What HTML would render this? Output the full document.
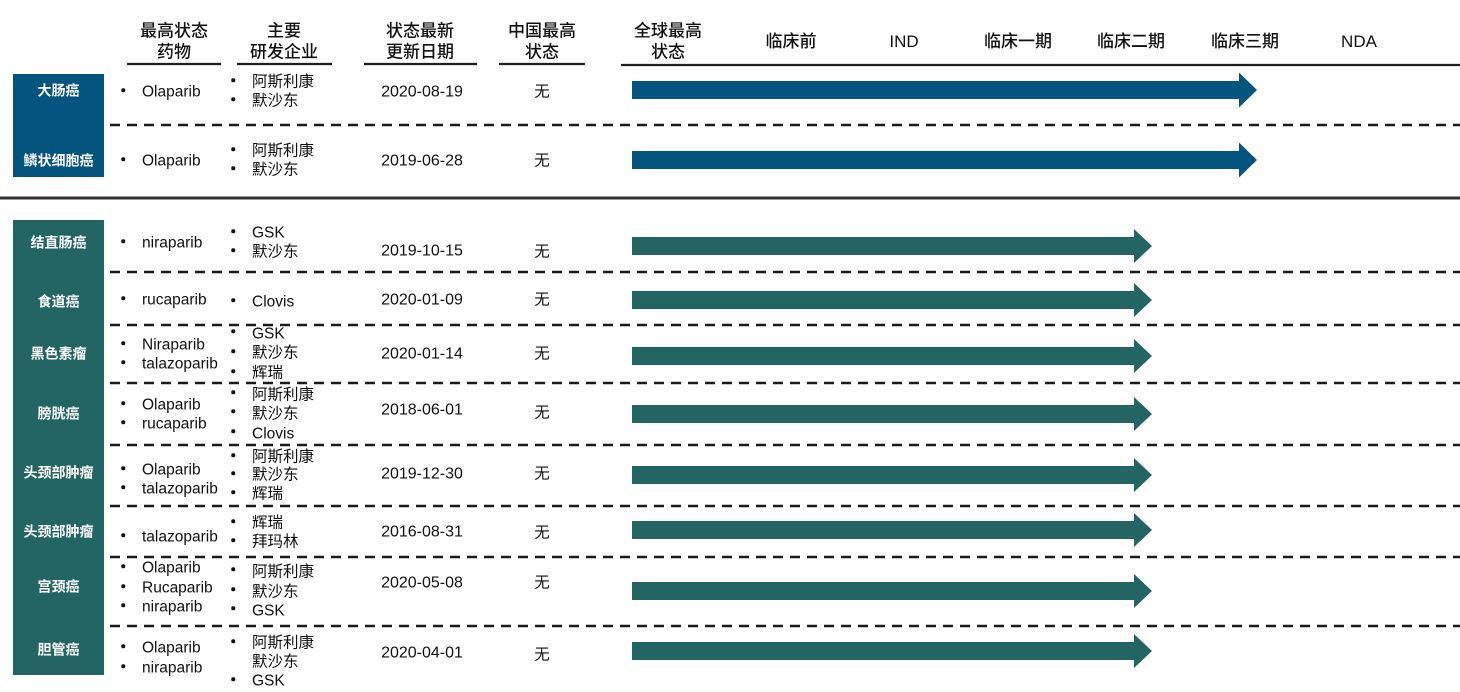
<!DOCTYPE html>
<html><head><meta charset="utf-8">
<style>
body{margin:0;background:#fff;}
#c{position:relative;width:1460px;height:692px;overflow:hidden;background:#fff;font-family:"Liberation Sans","Noto Sans CJK SC",sans-serif;color:#111;}
svg{position:absolute;left:0;top:0;}
.t{position:absolute;white-space:nowrap;font-size:15.5px;line-height:19px;transform:translateY(-50%);}
.c{position:absolute;white-space:nowrap;font-size:15.5px;line-height:19px;transform:translate(-50%,-50%);text-align:center;}
.h{font-size:17px;line-height:20.5px;font-weight:500;color:#111;}
.dt{font-size:16px;}
.lb{color:#fff;font-weight:bold;font-size:14px;}
.d{position:absolute;width:3.5px;height:3.5px;border-radius:50%;background:#111;transform:translate(-50%,-50%);}
</style></head><body><div id="c">
<svg width="1460" height="692" viewBox="0 0 1460 692">
<rect x="13" y="74" width="91" height="103" fill="#03547f"/>
<rect x="13" y="220" width="91" height="455" fill="#236563"/>
<g stroke="#1e1e1e" stroke-width="2.2">
<line x1="127" y1="64" x2="221" y2="64"/>
<line x1="237" y1="64" x2="332" y2="64"/>
<line x1="364" y1="64" x2="477" y2="64"/>
<line x1="499" y1="64" x2="585" y2="64"/>
<line x1="621" y1="65" x2="1460" y2="65"/>
</g>
<line x1="0" y1="198" x2="1460" y2="198" stroke="#333" stroke-width="3"/>
<g stroke="#1a1a1a" stroke-width="2.5" stroke-dasharray="10 7">
<line x1="110" y1="125" x2="1460" y2="125"/>
<line x1="110" y1="272" x2="1460" y2="272"/>
<line x1="110" y1="325" x2="1460" y2="325"/>
<line x1="110" y1="383" x2="1460" y2="383"/>
<line x1="110" y1="445" x2="1460" y2="445"/>
<line x1="110" y1="506" x2="1460" y2="506"/>
<line x1="110" y1="557" x2="1460" y2="557"/>
<line x1="110" y1="626" x2="1460" y2="626"/>
</g>
<g fill="#03547f">
<polygon points="632,81 1239,81 1239,72.5 1257,90 1239,107.5 1239,99 632,99"/>
<polygon points="632,151 1239,151 1239,142.5 1257,160 1239,177.5 1239,169 632,169"/>
</g>
<g fill="#236563">
<polygon points="632,237 1134,237 1134,229 1152,246 1134,263 1134,255 632,255"/>
<polygon points="632,291 1134,291 1134,283 1152,300 1134,317 1134,309 632,309"/>
<polygon points="632,347 1134,347 1134,339 1152,356 1134,373 1134,365 632,365"/>
<polygon points="632,405 1134,405 1134,397 1152,414 1134,431 1134,423 632,423"/>
<polygon points="632,466 1134,466 1134,458 1152,475 1134,492 1134,484 632,484"/>
<polygon points="632,521 1134,521 1134,513 1152,530 1134,547 1134,539 632,539"/>
<polygon points="632,582 1134,582 1134,574 1152,591 1134,608 1134,600 632,600"/>
<polygon points="632,642 1134,642 1134,634 1152,651 1134,668 1134,660 632,660"/>
</g>
</svg>

<!-- headers -->
<div class="c h" style="left:174px;top:42px;">最高状态<br>药物</div>
<div class="c h" style="left:284px;top:42px;">主要<br>研发企业</div>
<div class="c h" style="left:420px;top:42px;">状态最新<br>更新日期</div>
<div class="c h" style="left:542px;top:42px;">中国最高<br>状态</div>
<div class="c h" style="left:668px;top:42px;">全球最高<br>状态</div>
<div class="c h" style="left:791px;top:42px;">临床前</div>
<div class="c h" style="left:904px;top:42px;">IND</div>
<div class="c h" style="left:1018px;top:42px;">临床一期</div>
<div class="c h" style="left:1131px;top:42px;">临床二期</div>
<div class="c h" style="left:1245px;top:42px;">临床三期</div>
<div class="c h" style="left:1359px;top:42px;">NDA</div>

<!-- labels -->
<div class="c lb" style="left:58.5px;top:91px;">大肠癌</div>
<div class="c lb" style="left:58.5px;top:161px;">鳞状细胞癌</div>
<div class="c lb" style="left:58.5px;top:243px;">结直肠癌</div>
<div class="c lb" style="left:58.5px;top:302px;">食道癌</div>
<div class="c lb" style="left:58.5px;top:354px;">黑色素瘤</div>
<div class="c lb" style="left:58.5px;top:414px;">膀胱癌</div>
<div class="c lb" style="left:58.5px;top:473px;">头颈部肿瘤</div>
<div class="c lb" style="left:58.5px;top:532px;">头颈部肿瘤</div>
<div class="c lb" style="left:58.5px;top:587px;">宫颈癌</div>
<div class="c lb" style="left:58.5px;top:650px;">胆管癌</div>

<!-- drugs -->
<div class="d" style="left:123px;top:90px;"></div><div class="t" style="left:142px;top:92px;">Olaparib</div>
<div class="d" style="left:123px;top:159px;"></div><div class="t" style="left:142px;top:161px;">Olaparib</div>
<div class="d" style="left:123px;top:241px;"></div><div class="t" style="left:142px;top:243px;">niraparib</div>
<div class="d" style="left:123px;top:298px;"></div><div class="t" style="left:142px;top:300px;">rucaparib</div>
<div class="d" style="left:123px;top:343px;"></div><div class="t" style="left:142px;top:345px;">Niraparib</div>
<div class="d" style="left:123px;top:362px;"></div><div class="t" style="left:142px;top:364px;">talazoparib</div>
<div class="d" style="left:123px;top:403px;"></div><div class="t" style="left:142px;top:405px;">Olaparib</div>
<div class="d" style="left:123px;top:422px;"></div><div class="t" style="left:142px;top:424px;">rucaparib</div>
<div class="d" style="left:123px;top:468px;"></div><div class="t" style="left:142px;top:470px;">Olaparib</div>
<div class="d" style="left:123px;top:487px;"></div><div class="t" style="left:142px;top:489px;">talazoparib</div>
<div class="d" style="left:123px;top:535px;"></div><div class="t" style="left:142px;top:537px;">talazoparib</div>
<div class="d" style="left:123px;top:566px;"></div><div class="t" style="left:142px;top:568px;">Olaparib</div>
<div class="d" style="left:123px;top:586px;"></div><div class="t" style="left:142px;top:588px;">Rucaparib</div>
<div class="d" style="left:123px;top:605px;"></div><div class="t" style="left:142px;top:607px;">niraparib</div>
<div class="d" style="left:123px;top:646px;"></div><div class="t" style="left:142px;top:648px;">Olaparib</div>
<div class="d" style="left:123px;top:666px;"></div><div class="t" style="left:142px;top:668px;">niraparib</div>

<!-- companies -->
<div class="d" style="left:233px;top:80px;"></div><div class="t" style="left:252px;top:82px;">阿斯利康</div>
<div class="d" style="left:233px;top:99px;"></div><div class="t" style="left:252px;top:101px;">默沙东</div>
<div class="d" style="left:233px;top:149px;"></div><div class="t" style="left:252px;top:151px;">阿斯利康</div>
<div class="d" style="left:233px;top:168px;"></div><div class="t" style="left:252px;top:170px;">默沙东</div>
<div class="d" style="left:233px;top:231px;"></div><div class="t" style="left:252px;top:233px;">GSK</div>
<div class="d" style="left:233px;top:250px;"></div><div class="t" style="left:252px;top:252px;">默沙东</div>
<div class="d" style="left:233px;top:300px;"></div><div class="t" style="left:252px;top:302px;">Clovis</div>
<div class="d" style="left:233px;top:331px;"></div><div class="t" style="left:252px;top:334px;">GSK</div>
<div class="d" style="left:233px;top:351px;"></div><div class="t" style="left:252px;top:353px;">默沙东</div>
<div class="d" style="left:233px;top:371px;"></div><div class="t" style="left:252px;top:373px;">辉瑞</div>
<div class="d" style="left:233px;top:392px;"></div><div class="t" style="left:252px;top:395px;">阿斯利康</div>
<div class="d" style="left:233px;top:411px;"></div><div class="t" style="left:252px;top:414px;">默沙东</div>
<div class="d" style="left:233px;top:431px;"></div><div class="t" style="left:252px;top:434px;">Clovis</div>
<div class="d" style="left:233px;top:455px;"></div><div class="t" style="left:252px;top:457px;">阿斯利康</div>
<div class="d" style="left:233px;top:473px;"></div><div class="t" style="left:252px;top:475px;">默沙东</div>
<div class="d" style="left:233px;top:492px;"></div><div class="t" style="left:252px;top:494px;">辉瑞</div>
<div class="d" style="left:233px;top:521px;"></div><div class="t" style="left:252px;top:523px;">辉瑞</div>
<div class="d" style="left:233px;top:540px;"></div><div class="t" style="left:252px;top:542px;">拜玛林</div>
<div class="d" style="left:233px;top:569px;"></div><div class="t" style="left:252px;top:572px;">阿斯利康</div>
<div class="d" style="left:233px;top:589px;"></div><div class="t" style="left:252px;top:592px;">默沙东</div>
<div class="d" style="left:233px;top:608px;"></div><div class="t" style="left:252px;top:611px;">GSK</div>
<div class="d" style="left:233px;top:641px;"></div><div class="t" style="left:252px;top:643px;">阿斯利康</div>
<div class="t" style="left:252px;top:662px;">默沙东</div>
<div class="d" style="left:233px;top:679px;"></div><div class="t" style="left:252px;top:681px;">GSK</div>

<!-- dates -->
<div class="c dt" style="left:422px;top:92px;">2020-08-19</div>
<div class="c dt" style="left:422px;top:161px;">2019-06-28</div>
<div class="c dt" style="left:422px;top:251px;">2019-10-15</div>
<div class="c dt" style="left:422px;top:300px;">2020-01-09</div>
<div class="c dt" style="left:422px;top:354px;">2020-01-14</div>
<div class="c dt" style="left:422px;top:410px;">2018-06-01</div>
<div class="c dt" style="left:422px;top:474px;">2019-12-30</div>
<div class="c dt" style="left:422px;top:532px;">2016-08-31</div>
<div class="c dt" style="left:422px;top:583px;">2020-05-08</div>
<div class="c dt" style="left:422px;top:653px;">2020-04-01</div>

<!-- china status -->
<div class="c" style="left:542px;top:92px;">无</div>
<div class="c" style="left:542px;top:161px;">无</div>
<div class="c" style="left:542px;top:252px;">无</div>
<div class="c" style="left:542px;top:300px;">无</div>
<div class="c" style="left:542px;top:354px;">无</div>
<div class="c" style="left:542px;top:413px;">无</div>
<div class="c" style="left:542px;top:474px;">无</div>
<div class="c" style="left:542px;top:533px;">无</div>
<div class="c" style="left:542px;top:583px;">无</div>
<div class="c" style="left:542px;top:655px;">无</div>
</div></body></html>
